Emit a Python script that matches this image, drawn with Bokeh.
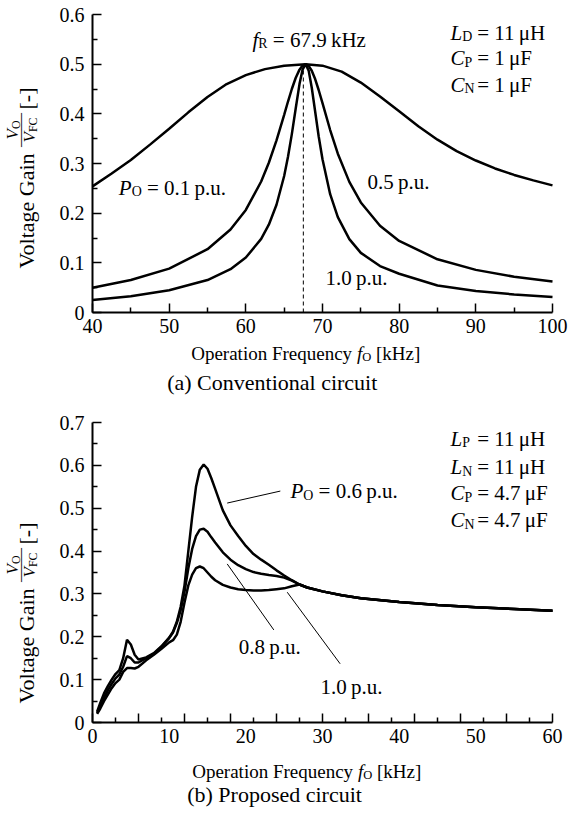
import math
from bokeh.plotting import figure
from bokeh.models import Label, FixedTicker, LinearAxis, Range1d
from bokeh.layouts import column
from bokeh.embed import file_html
from bokeh.resources import INLINE

FONT = "Liberation Serif"

# ---------------- data: (a) conventional circuit ----------------
freq_a_01 = [40, 42.5, 45, 47.5, 50, 52.5, 55, 57.5, 60, 62.5, 65, 67.8, 70, 72.5, 75,
             77.5, 80, 82.5, 85, 87.5, 90, 92.5, 95, 97.5, 100]
gain_a_01 = [0.254, 0.28, 0.307, 0.338, 0.37, 0.403, 0.434, 0.46, 0.478, 0.49, 0.497, 0.5,
             0.497, 0.485, 0.463, 0.435, 0.405, 0.375, 0.348, 0.325, 0.306, 0.29, 0.277,
             0.266, 0.256]

freq_a = [40, 45, 50, 55, 58, 60, 62, 63, 64, 65, 65.5, 66, 66.5, 67, 67.4, 67.8, 68.2,
          68.6, 69, 69.5, 70, 71, 72, 73.5, 75, 77.5, 80, 85, 90, 95, 100]
gain_a_05 = [0.050, 0.0653, 0.0884, 0.1274, 0.167, 0.2065, 0.2637, 0.3015, 0.3467, 0.398,
             0.4248, 0.45, 0.4722, 0.489, 0.4972, 0.5, 0.4965, 0.4867, 0.4717, 0.448, 0.4215,
             0.3674, 0.3198, 0.263, 0.2216, 0.1746, 0.144, 0.1071, 0.0858, 0.072, 0.0623]
gain_a_10 = [0.0251, 0.0329, 0.0448, 0.0653, 0.0872, 0.1106, 0.1482, 0.1768, 0.2169, 0.2749,
             0.3135, 0.3592, 0.4102, 0.4599, 0.489, 0.5, 0.4866, 0.4525, 0.4092, 0.3549,
             0.3084, 0.2382, 0.192, 0.1477, 0.12, 0.0935, 0.078, 0.0545, 0.0434, 0.0363, 0.0313]
f_res = 67.5

# ---------------- data: (b) proposed circuit ----------------
freq_b = [0.6, 1, 1.5, 2, 2.5, 3, 3.5, 4, 4.5, 5, 5.5, 6, 7, 8, 9, 10, 10.5, 11, 11.5, 12,
          12.5, 13, 13.5, 14, 14.5, 15, 15.5, 16, 17, 18, 19, 20, 21, 22, 23, 24, 25, 26, 27,
          28, 30, 32.5, 35, 40, 45, 50, 55, 60]
gain_b_06 = [0.025, 0.045, 0.068, 0.085, 0.1, 0.113, 0.122, 0.15, 0.193, 0.182,
             0.158, 0.147, 0.152, 0.162, 0.178, 0.198, 0.212, 0.235, 0.27, 0.32,
             0.40, 0.48, 0.55, 0.59, 0.602, 0.592, 0.57, 0.545, 0.495, 0.46,
             0.435, 0.412, 0.393, 0.38, 0.368, 0.355, 0.343, 0.332, 0.322, 0.315,
             0.306, 0.297, 0.29, 0.281, 0.274, 0.269, 0.265, 0.261]
gain_b_08 = [0.022, 0.038, 0.058, 0.075, 0.09, 0.103, 0.112, 0.13, 0.155, 0.15,
             0.14, 0.14, 0.15, 0.16, 0.177, 0.197, 0.21, 0.232, 0.262, 0.305,
             0.36, 0.405, 0.435, 0.45, 0.452, 0.445, 0.432, 0.42, 0.397, 0.38,
             0.367, 0.358, 0.351, 0.347, 0.344, 0.342, 0.338, 0.331, 0.322, 0.315,
             0.306, 0.297, 0.29, 0.281, 0.274, 0.269, 0.265, 0.261]
gain_b_10 = [0.02, 0.032, 0.05, 0.065, 0.08, 0.092, 0.1, 0.118, 0.127, 0.127,
             0.126, 0.13, 0.145, 0.158, 0.172, 0.187, 0.192, 0.205, 0.235, 0.28,
             0.32, 0.345, 0.36, 0.364, 0.36, 0.35, 0.34, 0.332, 0.321, 0.315,
             0.311, 0.309, 0.308, 0.308, 0.309, 0.311, 0.313, 0.318, 0.322, 0.315,
             0.306, 0.297, 0.29, 0.281, 0.274, 0.269, 0.265, 0.261]

xticks_a = [40, 50, 60, 70, 80, 90, 100]
xminor_a = [45, 55, 65, 75, 85, 95]
yticks_a = [0, 0.1, 0.2, 0.3, 0.4, 0.5, 0.6]
yminor_a = [0.05, 0.15, 0.25, 0.35, 0.45, 0.55]
xticks_b = [0, 6, 12, 18, 24, 30, 36, 42, 48, 54, 60]
xminor_b = [3, 9, 15, 21, 27, 33, 39, 45, 51, 57]
xlabels_b = [0, 10, 20, 30, 40, 50, 60]
yticks_b = [0, 0.1, 0.2, 0.3, 0.4, 0.5, 0.6, 0.7]
yminor_b = [0.05, 0.15, 0.25, 0.35, 0.45, 0.55, 0.65]

# ---------------- text helpers ----------------
REG = {' ': 250, '\u2009': 200, '(': 333, ')': 333, '[': 333, ']': 333, '-': 333, '.': 250,
       '=': 564, '\u03bc': 576, '\u2014': 1000,
       'A': 722, 'C': 667, 'D': 722, 'F': 556, 'G': 722, 'H': 722, 'L': 611, 'N': 722,
       'O': 722, 'P': 556, 'R': 667, 'V': 722,
       'a': 444, 'b': 500, 'c': 444, 'd': 500, 'e': 444, 'f': 333, 'g': 500, 'h': 500,
       'i': 278, 'k': 500, 'l': 278, 'm': 778, 'n': 500, 'o': 500, 'p': 500, 'q': 500,
       'r': 333, 's': 389, 't': 278, 'u': 500, 'v': 500, 'y': 500, 'z': 444}
ITA = {'f': 278, 'L': 556, 'C': 667, 'P': 611, 'V': 611}
BASE_FIX = 0.42     # empirical baseline correction (fraction of the main font size)


def tw(s, size, italic=False):
    tb = ITA if italic else REG
    return sum(tb.get(c, REG.get(c, 500)) for c in s) * size / 1000.0


def rich(p, x, y, parts, size, dx=0.0, dy=0.0, rot=False, sub=0.66):
    off = 0.0
    for text, kind in parts:
        fs = size * sub if kind == 's' else size
        shift = (-0.2 * size if kind == 's' else 0.0) + BASE_FIX * size
        lead = len(text) - len(text.lstrip(' '))
        off += tw(' ' * lead, fs)
        body = text.strip(' ')
        if body:
            if rot:
                xo, yo = dx - shift, dy + off
            else:
                xo, yo = dx + off, dy + shift
            p.add_layout(Label(x=x, y=y, x_offset=xo, y_offset=yo, text=body,
                               angle=(math.pi / 2 if rot else 0.0),
                               text_font=FONT, text_font_size=f"{fs:.1f}px",
                               text_font_style=("italic" if kind == 'i' else "normal"),
                               text_baseline="alphabetic", text_align="left",
                               text_color="black"))
        off += tw(text.lstrip(' '), fs, kind == 'i')
    return off


def style_axis(ax, ticks, minor, bounds, loc, size="20px", standoff=6):
    ax.ticker = FixedTicker(ticks=ticks, minor_ticks=minor)
    ax.bounds = bounds
    ax.fixed_location = loc
    ax.axis_line_width = 2
    ax.axis_line_color = "black"
    ax.major_tick_in = 9
    ax.major_tick_out = 0
    ax.minor_tick_in = 5
    ax.minor_tick_out = 0
    ax.major_tick_line_width = 1.5
    ax.minor_tick_line_width = 1.5
    ax.major_tick_line_color = "black"
    ax.minor_tick_line_color = "black"
    ax.major_label_text_font = FONT
    ax.major_label_text_font_size = size
    ax.major_label_text_color = "black"
    ax.major_label_standoff = standoff


# pixel geometry of each panel (canvas px)
W = 572
PXL = 92            # x pixel of the left end of both x axes
PXR = 552           # x pixel of the right end


def base_fig(height, x_lo, x_hi, y_lo, y_hi, py_lo, py_hi):
    sx = (PXR - PXL) / (x_hi - x_lo)
    sy = (py_lo - py_hi) / (y_hi - y_lo)
    xr = Range1d(x_lo - PXL / sx, x_hi + (W - PXR) / sx)
    yr = Range1d(y_lo - (height - py_lo) / sy, y_hi + py_hi / sy)
    p = figure(width=W, height=height, x_range=xr, y_range=yr,
               output_backend="svg", toolbar_location=None, title=None,
               min_border_left=0, min_border_right=0, min_border_top=0,
               min_border_bottom=0)
    p.xgrid.visible = False
    p.ygrid.visible = False
    p.outline_line_color = None
    p.background_fill_color = "white"
    p.border_fill_color = "white"
    return p


def ylabel(p, x0, y0, base):
    # base: pixel offset (upwards from the x axis) where "Voltage Gain" starts
    rich(p, x0, y0, [("Voltage Gain", 'r')], 22, dx=-57, dy=base, rot=True)
    c = base + 138.5
    rich(p, x0, y0, [("\u2014\u2014", 'r')], 17, dx=-66, dy=c - 17, rot=True)
    rich(p, x0, y0, [("V", 'i'), ("O", 's')], 17, dx=-73, dy=c - 9.5, rot=True, sub=0.7)
    rich(p, x0, y0, [("V", 'i'), ("FC", 's')], 17, dx=-56, dy=c - 12.5, rot=True, sub=0.7)
    rich(p, x0, y0, [("[-]", 'r')], 22, dx=-57, dy=base + 159, rot=True)


TS = 21
H_A = 408
H_B = 818 - H_A

# ---------------- figure (a) ----------------
pa = base_fig(H_A, 40, 100, 0, 0.6, 312, 14)
style_axis(pa.xaxis[0], xticks_a, xminor_a, (40, 100), 0, standoff=6)
style_axis(pa.yaxis[0], yticks_a, yminor_a, (0, 0.6), 40, standoff=8)
pa.yaxis[0].major_label_overrides = {0: "0"}

pa.line(freq_a_01, gain_a_01, line_color="black", line_width=2.5)
pa.line(freq_a, gain_a_05, line_color="black", line_width=2.5)
pa.line(freq_a, gain_a_10, line_color="black", line_width=2.5)
pa.segment(x0=[f_res], y0=[0], x1=[f_res], y1=[0.5], line_color="black",
           line_width=1, line_dash="4 3")

rich(pa, 60.87, 0.5315, [("f", 'i'), ("R", 's'), (" = 67.9\u2009kHz", 'r')], TS)
rich(pa, 43.43, 0.2335, [("P", 'i'), ("O", 's'), (" = 0.1\u2009p.u.", 'r')], TS)
rich(pa, 75.87, 0.2456, [("0.5\u2009p.u.", 'r')], TS)
rich(pa, 70.39, 0.0523, [("1.0\u2009p.u.", 'r')], TS)
for gy, sym, sb, val in [(0.546, "L", "D", "= 11\u2009\u03bcH"),
                         (0.494, "C", "P", "= 1\u2009\u03bcF"),
                         (0.441, "C", "N", "= 1\u2009\u03bcF")]:
    rich(pa, 86.69, gy, [(sym, 'i'), (sb, 's')], TS)
    rich(pa, 86.69, gy, [(val, 'r')], TS, dx=26.7)

rich(pa, 40, 0, [("Operation Frequency ", 'r'), ("f", 'i'), ("O", 's'), (" [kHz]", 'r')],
     19, dx=98.7, dy=-49)
rich(pa, 40, 0, [("(a) Conventional circuit", 'r')], 22, dx=74.7, dy=-79)
ylabel(pa, 40, 0, 44)

# ---------------- figure (b) ----------------
pb = base_fig(H_B, 0, 60, 0, 0.7, 722 - H_A, 422 - H_A)
# x axis: long ticks every 6 kHz, short ticks in between, labels every 10 kHz
ax_long = pb.xaxis[0]
style_axis(ax_long, [], xticks_b, (0, 60), 0)
ax_long.minor_tick_in = 9
ax_short = LinearAxis()
style_axis(ax_short, [], xminor_b, (0, 60), 0)
ax_short.axis_line_color = None
pb.add_layout(ax_short, "below")
ax_lab = LinearAxis()
style_axis(ax_lab, xlabels_b, [], (0, 60), 0, standoff=6)
ax_lab.major_tick_in = 0
ax_lab.minor_tick_in = 0
ax_lab.axis_line_color = None
pb.add_layout(ax_lab, "below")
style_axis(pb.yaxis[0], yticks_b, yminor_b, (0, 0.7), 0, standoff=8)
pb.yaxis[0].major_label_overrides = {0: "0"}

pb.line(freq_b, gain_b_10, line_color="black", line_width=2.5)
pb.line(freq_b, gain_b_08, line_color="black", line_width=2.5)
pb.line(freq_b, gain_b_06, line_color="black", line_width=2.5)

# leader lines
pb.segment(x0=[17.57, 17.57, 25.4], y0=[0.512, 0.370, 0.304],
           x1=[24.5, 23.65, 32.3], y1=[0.540, 0.216, 0.137],
           line_color="black", line_width=1)

rich(pb, 25.83, 0.520, [("P", 'i'), ("O", 's'), (" = 0.6\u2009p.u.", 'r')], TS)
rich(pb, 19.08, 0.156, [("0.8\u2009p.u.", 'r')], TS)
rich(pb, 29.74, 0.063, [("1.0\u2009p.u.", 'r')], TS)
for gy, sym, sb, val in [(0.642, "L", "P", "= 11\u2009\u03bcH"),
                         (0.576, "L", "N", "= 11\u2009\u03bcH"),
                         (0.514, "C", "P", "= 4.7\u2009\u03bcF"),
                         (0.452, "C", "N", "= 4.7\u2009\u03bcF")]:
    rich(pb, 46.69, gy, [(sym, 'i'), (sb, 's')], TS)
    rich(pb, 46.69, gy, [(val, 'r')], TS, dx=26.7)

rich(pb, 0, 0, [("Operation Frequency ", 'r'), ("f", 'i'), ("O", 's'), (" [kHz]", 'r')],
     19, dx=99.7, dy=-57)
rich(pb, 0, 0, [("(b) Proposed circuit", 'r')], 22, dx=94.7, dy=-81)
ylabel(pb, 0, 0, 19)

layout = column(pa, pb, spacing=0)
open("out.html", "w").write(file_html(layout, INLINE))
